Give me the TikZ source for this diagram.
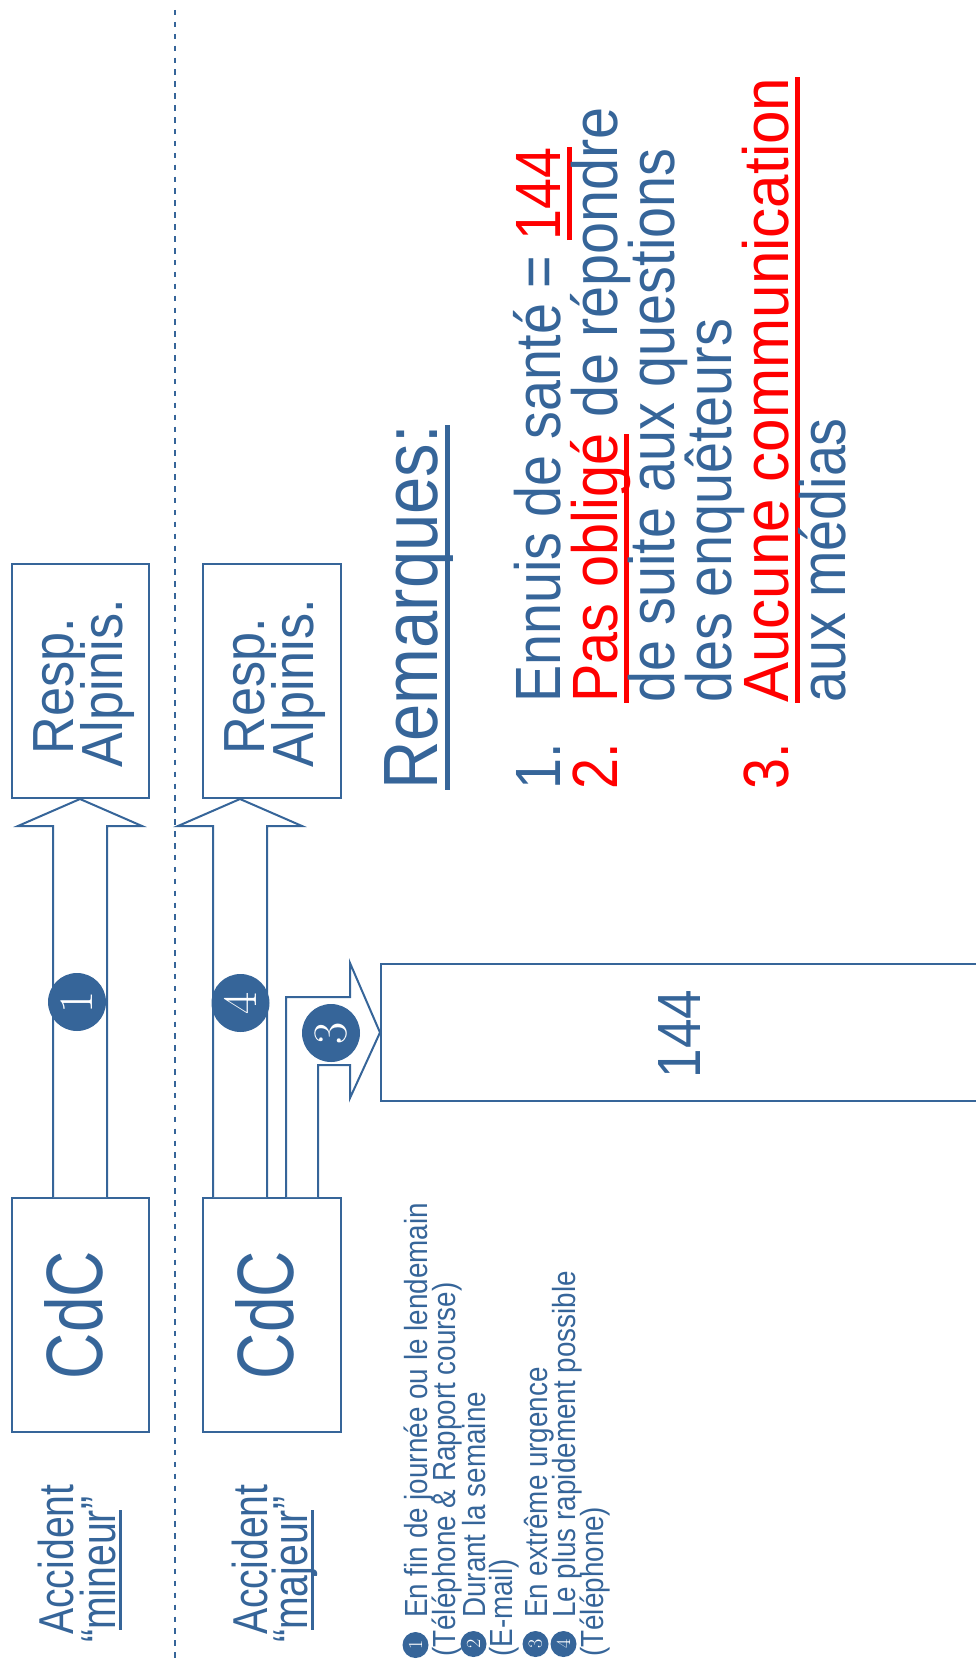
\documentclass[tikz,border=0pt]{standalone}
\usepackage{fontspec}
\newfontfamily\twc[FakeStretch=0.8]{Liberation Sans}
\newfontfamily\twr[FakeStretch=0.9]{Liberation Sans}
\newfontfamily\cond[FakeStretch=0.87]{Liberation Sans}
\newfontfamily\condb[FakeStretch=0.9]{Liberation Sans}
\newfontfamily\condc[FakeStretch=0.94]{Liberation Sans}
\definecolor{bl}{RGB}{54,101,153}
\definecolor{rd}{RGB}{255,0,0}
\newcommand\fsz[1]{\fontsize{#1}{#1}\selectfont}
\newcommand\uln[4]{\setbox0\hbox{#4}\rlap{\textcolor{#1}{\rule[#2]{\wd0}{#3}}}\box0\relax}
\begin{document}
\begin{tikzpicture}[x=1pt,y=-1pt,
  panel/.style={draw=bl, line width=2pt, fill=white, minimum width=#1, minimum height=234pt, inner sep=0},
  blockarrow/.style={draw=bl, line width=2pt, fill=white, line join=miter},
  numc/.style={circle, fill=bl, text=white, inner sep=0, minimum size=58pt, rotate=90, font=\fsz{48}},
  legc/.style={circle, fill=bl, text=white, inner sep=0, minimum size=26pt, rotate=90, font=\fsz{20}},
  txt/.style={rotate=90, inner sep=0, text=bl, anchor=base west},
  ctxt/.style={rotate=90, inner sep=0, text=bl, anchor=base},
  lst/.style={txt, font=\cond\fsz{64}},
  leg/.style={txt, font=\cond\fsz{32}}]
\useasboundingbox (0,0) rectangle (976,1664);

% separator
\draw[bl, line width=2pt, dash pattern=on 5.5pt off 6.4pt] (175,10) -- (175,1664);

% boxes
\node[panel=137pt] (resp1) at (80.5,681) {};
\node[panel=138pt] (resp2) at (272,681) {};
\node[panel=137pt] (cdc1) at (80.5,1315) {};
\node[panel=138pt] (cdc2) at (272,1315) {};
\node[draw=bl, line width=2pt, fill=white, minimum width=620pt, minimum height=137pt, inner sep=0] (b144) at (691,1032.5) {};

% block arrows
\draw[blockarrow] (53,0 |- cdc1.north) -- (53,826) -- (18,826) -- (80,0 |- resp1.south)
  -- (142,826) -- (107,826) -- (107,0 |- cdc1.north);
\draw[blockarrow] (213,0 |- cdc2.north) -- (213,826) -- (178,826) -- (240,0 |- resp2.south)
  -- (302,826) -- (267,826) -- (267,0 |- cdc2.north);
\draw[blockarrow] (286,0 |- cdc2.north) -- (286,997) -- (350,997) -- (350,963) -- (b144.west)
  -- (350,1098) -- (350,1065) -- (318,1065) -- (318,0 |- cdc2.north);

% numbered circles
\node[numc] (n1) at (77,1002) {1};
\node[numc] (n4) at (240.5,1003) {4};
\node[numc] (n3) at (331,1033) {3};

% box texts
\node[ctxt, font=\twr\fsz{58}] (r1a) at (73,686) {Resp.};
\node[ctxt, font=\twr\fsz{58}] (r1b) at (122,683) {Alpinis.};
\node[ctxt, font=\twr\fsz{58}] (r2a) at (264,686) {Resp.};
\node[ctxt, font=\twr\fsz{58}] (r2b) at (313,683) {Alpinis.};
\node[ctxt, font=\twc\fsz{80}] (c1) at (102,1315) {CdC};
\node[ctxt, font=\twc\fsz{80}] (c2) at (293,1315) {CdC};
\node[ctxt, font=\cond\fsz{61}] (t144) at (700,1034) {144};

% accident labels
\node[txt, font=\twc\fsz{49}] (acc1) at (73,1635) {Accident};
\node[txt, font=\twc\fsz{49}] (min1) at (115,1643) {“\uln{bl}{-7pt}{3.5pt}{mineur}”};
\node[txt, font=\twc\fsz{49}] (acc2) at (267,1635) {Accident};
\node[txt, font=\twc\fsz{49}] (maj2) at (307,1643) {“\uln{bl}{-7pt}{3.5pt}{majeur}”};

% remarks
\node[txt, font=\cond\fsz{77}] (rem) at (437,790) {\uln{bl}{-12.5pt}{5pt}{Remarques:}};
\node[lst] (num1) at (560,790) {1.};
\node[lst, text=rd] (num2) at (617,790) {2.};
\node[lst, text=rd] (num3) at (788,790) {3.};
\node[lst] (l1) at (560,703) {Ennuis de santé = \uln{rd}{-12pt}{5pt}{\textcolor{rd}{144}}};
\node[lst, font=\condb\fsz{64}] (l2) at (617,703) {\uln{rd}{-12pt}{5pt}{\textcolor{rd}{Pas obligé}} de répondre};
\node[lst] (l3) at (674,703) {de suite aux questions};
\node[lst] (l4) at (731,703) {des enquêteurs};
\node[lst, font=\condc\fsz{64}] (l5) at (788,703) {\uln{rd}{-12pt}{5pt}{\textcolor{rd}{Aucune communication}}};
\node[lst] (l6) at (845,703) {aux médias};

% legend
\node[legc] (k1) at (415.5,1645) {1};
\node[leg] (g1) at (427,1618) {En fin de journée ou le lendemain};
\node[leg] (g2) at (455,1657) {(Téléphone \& Rapport course)};
\node[legc] (k2) at (473.5,1644) {2};
\node[leg] (g3) at (485,1618) {Durant la semaine};
\node[leg] (g4) at (512,1657) {(E-mail)};
\node[legc] (k3) at (535.5,1644) {3};
\node[leg] (g5) at (547,1618) {En extrême urgence};
\node[legc] (k4) at (563.5,1644) {4};
\node[leg] (g6) at (575,1618) {Le plus rapidement possible};
\node[leg] (g7) at (603,1657) {(Téléphone)};
\end{tikzpicture}
\end{document}
